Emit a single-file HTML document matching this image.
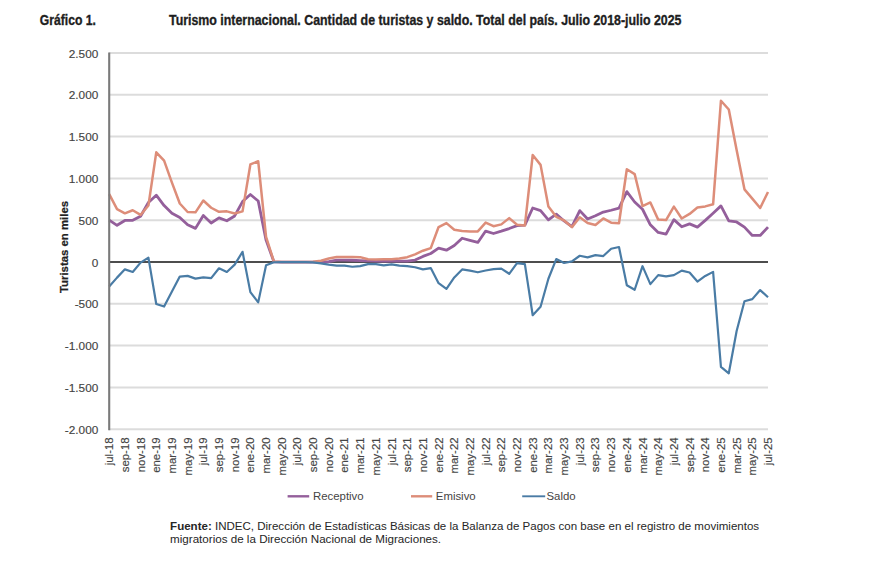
<!DOCTYPE html>
<html lang="es"><head><meta charset="utf-8"><title>Gráfico 1. Turismo internacional</title>
<style>html,body{margin:0;padding:0;background:#fff;width:870px;height:580px;overflow:hidden}svg{display:block} .l{stroke:#444;stroke-width:0.15px}</style>
</head><body>
<svg width="870" height="580" viewBox="0 0 870 580">
<defs><filter id="soft" filterUnits="userSpaceOnUse" x="0" y="0" width="870" height="580"><feGaussianBlur stdDeviation="0.32"/></filter></defs>
<rect width="870" height="580" fill="#ffffff"/>
<text x="39.8" y="24.6" font-family="Liberation Sans, Arial, sans-serif" font-weight="700" font-size="15.3" fill="#1e1e1e" stroke="#1e1e1e" stroke-width="0.35" textLength="56" lengthAdjust="spacingAndGlyphs">Gráfico 1.</text>
<text x="169" y="24.6" font-family="Liberation Sans, Arial, sans-serif" font-weight="700" font-size="15.3" fill="#1e1e1e" stroke="#1e1e1e" stroke-width="0.35" textLength="512.5" lengthAdjust="spacingAndGlyphs">Turismo internacional. Cantidad de turistas y saldo. Total del país. Julio 2018-julio 2025</text>
<g filter="url(#soft)">
<line x1="109.2" y1="53.00" x2="768.0" y2="53.00" stroke="#dcdcdc" stroke-width="2"/>
<line x1="109.2" y1="94.80" x2="768.0" y2="94.80" stroke="#dcdcdc" stroke-width="2"/>
<line x1="109.2" y1="136.60" x2="768.0" y2="136.60" stroke="#dcdcdc" stroke-width="2"/>
<line x1="109.2" y1="178.40" x2="768.0" y2="178.40" stroke="#dcdcdc" stroke-width="2"/>
<line x1="109.2" y1="220.20" x2="768.0" y2="220.20" stroke="#dcdcdc" stroke-width="2"/>
<line x1="109.2" y1="303.80" x2="768.0" y2="303.80" stroke="#dcdcdc" stroke-width="2"/>
<line x1="109.2" y1="345.60" x2="768.0" y2="345.60" stroke="#dcdcdc" stroke-width="2"/>
<line x1="109.2" y1="387.40" x2="768.0" y2="387.40" stroke="#dcdcdc" stroke-width="2"/>
<line x1="109.2" y1="429.20" x2="768.0" y2="429.20" stroke="#dcdcdc" stroke-width="2"/>
</g>
<text x="98.3" y="57.60" text-anchor="end" font-family="Liberation Sans, Arial, sans-serif" font-size="11.8" fill="#444444" class="l">2.500</text>
<text x="98.3" y="99.40" text-anchor="end" font-family="Liberation Sans, Arial, sans-serif" font-size="11.8" fill="#444444" class="l">2.000</text>
<text x="98.3" y="141.20" text-anchor="end" font-family="Liberation Sans, Arial, sans-serif" font-size="11.8" fill="#444444" class="l">1.500</text>
<text x="98.3" y="183.00" text-anchor="end" font-family="Liberation Sans, Arial, sans-serif" font-size="11.8" fill="#444444" class="l">1.000</text>
<text x="98.3" y="224.80" text-anchor="end" font-family="Liberation Sans, Arial, sans-serif" font-size="11.8" fill="#444444" class="l">500</text>
<text x="98.3" y="266.60" text-anchor="end" font-family="Liberation Sans, Arial, sans-serif" font-size="11.8" fill="#444444" class="l">0</text>
<text x="98.3" y="308.40" text-anchor="end" font-family="Liberation Sans, Arial, sans-serif" font-size="11.8" fill="#444444" class="l">-500</text>
<text x="98.3" y="350.20" text-anchor="end" font-family="Liberation Sans, Arial, sans-serif" font-size="11.8" fill="#444444" class="l">-1.000</text>
<text x="98.3" y="392.00" text-anchor="end" font-family="Liberation Sans, Arial, sans-serif" font-size="11.8" fill="#444444" class="l">-1.500</text>
<text x="98.3" y="433.80" text-anchor="end" font-family="Liberation Sans, Arial, sans-serif" font-size="11.8" fill="#444444" class="l">-2.000</text>
<text transform="translate(67.9,247) rotate(-90)" text-anchor="middle" font-family="Liberation Sans, Arial, sans-serif" font-weight="700" font-size="11.4" fill="#222" stroke="#222" stroke-width="0.2">Turistas en miles</text>
<text transform="translate(113.20,437.4) rotate(-90)" text-anchor="end" font-family="Liberation Sans, Arial, sans-serif" font-size="11.4" fill="#444444" class="l">jul-18</text>
<text transform="translate(128.89,437.4) rotate(-90)" text-anchor="end" font-family="Liberation Sans, Arial, sans-serif" font-size="11.4" fill="#444444" class="l">sep-18</text>
<text transform="translate(144.57,437.4) rotate(-90)" text-anchor="end" font-family="Liberation Sans, Arial, sans-serif" font-size="11.4" fill="#444444" class="l">nov-18</text>
<text transform="translate(160.26,437.4) rotate(-90)" text-anchor="end" font-family="Liberation Sans, Arial, sans-serif" font-size="11.4" fill="#444444" class="l">ene-19</text>
<text transform="translate(175.94,437.4) rotate(-90)" text-anchor="end" font-family="Liberation Sans, Arial, sans-serif" font-size="11.4" fill="#444444" class="l">mar-19</text>
<text transform="translate(191.63,437.4) rotate(-90)" text-anchor="end" font-family="Liberation Sans, Arial, sans-serif" font-size="11.4" fill="#444444" class="l">may-19</text>
<text transform="translate(207.31,437.4) rotate(-90)" text-anchor="end" font-family="Liberation Sans, Arial, sans-serif" font-size="11.4" fill="#444444" class="l">jul-19</text>
<text transform="translate(223.00,437.4) rotate(-90)" text-anchor="end" font-family="Liberation Sans, Arial, sans-serif" font-size="11.4" fill="#444444" class="l">sep-19</text>
<text transform="translate(238.69,437.4) rotate(-90)" text-anchor="end" font-family="Liberation Sans, Arial, sans-serif" font-size="11.4" fill="#444444" class="l">nov-19</text>
<text transform="translate(254.37,437.4) rotate(-90)" text-anchor="end" font-family="Liberation Sans, Arial, sans-serif" font-size="11.4" fill="#444444" class="l">ene-20</text>
<text transform="translate(270.06,437.4) rotate(-90)" text-anchor="end" font-family="Liberation Sans, Arial, sans-serif" font-size="11.4" fill="#444444" class="l">mar-20</text>
<text transform="translate(285.74,437.4) rotate(-90)" text-anchor="end" font-family="Liberation Sans, Arial, sans-serif" font-size="11.4" fill="#444444" class="l">may-20</text>
<text transform="translate(301.43,437.4) rotate(-90)" text-anchor="end" font-family="Liberation Sans, Arial, sans-serif" font-size="11.4" fill="#444444" class="l">jul-20</text>
<text transform="translate(317.11,437.4) rotate(-90)" text-anchor="end" font-family="Liberation Sans, Arial, sans-serif" font-size="11.4" fill="#444444" class="l">sep-20</text>
<text transform="translate(332.80,437.4) rotate(-90)" text-anchor="end" font-family="Liberation Sans, Arial, sans-serif" font-size="11.4" fill="#444444" class="l">nov-20</text>
<text transform="translate(348.49,437.4) rotate(-90)" text-anchor="end" font-family="Liberation Sans, Arial, sans-serif" font-size="11.4" fill="#444444" class="l">ene-21</text>
<text transform="translate(364.17,437.4) rotate(-90)" text-anchor="end" font-family="Liberation Sans, Arial, sans-serif" font-size="11.4" fill="#444444" class="l">mar-21</text>
<text transform="translate(379.86,437.4) rotate(-90)" text-anchor="end" font-family="Liberation Sans, Arial, sans-serif" font-size="11.4" fill="#444444" class="l">may-21</text>
<text transform="translate(395.54,437.4) rotate(-90)" text-anchor="end" font-family="Liberation Sans, Arial, sans-serif" font-size="11.4" fill="#444444" class="l">jul-21</text>
<text transform="translate(411.23,437.4) rotate(-90)" text-anchor="end" font-family="Liberation Sans, Arial, sans-serif" font-size="11.4" fill="#444444" class="l">sep-21</text>
<text transform="translate(426.91,437.4) rotate(-90)" text-anchor="end" font-family="Liberation Sans, Arial, sans-serif" font-size="11.4" fill="#444444" class="l">nov-21</text>
<text transform="translate(442.60,437.4) rotate(-90)" text-anchor="end" font-family="Liberation Sans, Arial, sans-serif" font-size="11.4" fill="#444444" class="l">ene-22</text>
<text transform="translate(458.29,437.4) rotate(-90)" text-anchor="end" font-family="Liberation Sans, Arial, sans-serif" font-size="11.4" fill="#444444" class="l">mar-22</text>
<text transform="translate(473.97,437.4) rotate(-90)" text-anchor="end" font-family="Liberation Sans, Arial, sans-serif" font-size="11.4" fill="#444444" class="l">may-22</text>
<text transform="translate(489.66,437.4) rotate(-90)" text-anchor="end" font-family="Liberation Sans, Arial, sans-serif" font-size="11.4" fill="#444444" class="l">jul-22</text>
<text transform="translate(505.34,437.4) rotate(-90)" text-anchor="end" font-family="Liberation Sans, Arial, sans-serif" font-size="11.4" fill="#444444" class="l">sep-22</text>
<text transform="translate(521.03,437.4) rotate(-90)" text-anchor="end" font-family="Liberation Sans, Arial, sans-serif" font-size="11.4" fill="#444444" class="l">nov-22</text>
<text transform="translate(536.71,437.4) rotate(-90)" text-anchor="end" font-family="Liberation Sans, Arial, sans-serif" font-size="11.4" fill="#444444" class="l">ene-23</text>
<text transform="translate(552.40,437.4) rotate(-90)" text-anchor="end" font-family="Liberation Sans, Arial, sans-serif" font-size="11.4" fill="#444444" class="l">mar-23</text>
<text transform="translate(568.09,437.4) rotate(-90)" text-anchor="end" font-family="Liberation Sans, Arial, sans-serif" font-size="11.4" fill="#444444" class="l">may-23</text>
<text transform="translate(583.77,437.4) rotate(-90)" text-anchor="end" font-family="Liberation Sans, Arial, sans-serif" font-size="11.4" fill="#444444" class="l">jul-23</text>
<text transform="translate(599.46,437.4) rotate(-90)" text-anchor="end" font-family="Liberation Sans, Arial, sans-serif" font-size="11.4" fill="#444444" class="l">sep-23</text>
<text transform="translate(615.14,437.4) rotate(-90)" text-anchor="end" font-family="Liberation Sans, Arial, sans-serif" font-size="11.4" fill="#444444" class="l">nov-23</text>
<text transform="translate(630.83,437.4) rotate(-90)" text-anchor="end" font-family="Liberation Sans, Arial, sans-serif" font-size="11.4" fill="#444444" class="l">ene-24</text>
<text transform="translate(646.51,437.4) rotate(-90)" text-anchor="end" font-family="Liberation Sans, Arial, sans-serif" font-size="11.4" fill="#444444" class="l">mar-24</text>
<text transform="translate(662.20,437.4) rotate(-90)" text-anchor="end" font-family="Liberation Sans, Arial, sans-serif" font-size="11.4" fill="#444444" class="l">may-24</text>
<text transform="translate(677.89,437.4) rotate(-90)" text-anchor="end" font-family="Liberation Sans, Arial, sans-serif" font-size="11.4" fill="#444444" class="l">jul-24</text>
<text transform="translate(693.57,437.4) rotate(-90)" text-anchor="end" font-family="Liberation Sans, Arial, sans-serif" font-size="11.4" fill="#444444" class="l">sep-24</text>
<text transform="translate(709.26,437.4) rotate(-90)" text-anchor="end" font-family="Liberation Sans, Arial, sans-serif" font-size="11.4" fill="#444444" class="l">nov-24</text>
<text transform="translate(724.94,437.4) rotate(-90)" text-anchor="end" font-family="Liberation Sans, Arial, sans-serif" font-size="11.4" fill="#444444" class="l">ene-25</text>
<text transform="translate(740.63,437.4) rotate(-90)" text-anchor="end" font-family="Liberation Sans, Arial, sans-serif" font-size="11.4" fill="#444444" class="l">mar-25</text>
<text transform="translate(756.31,437.4) rotate(-90)" text-anchor="end" font-family="Liberation Sans, Arial, sans-serif" font-size="11.4" fill="#444444" class="l">may-25</text>
<text transform="translate(772.00,437.4) rotate(-90)" text-anchor="end" font-family="Liberation Sans, Arial, sans-serif" font-size="11.4" fill="#444444" class="l">jul-25</text>
<g filter="url(#soft)">
<line x1="109.2" y1="262.0" x2="768.0" y2="262.0" stroke="#4d4d4d" stroke-width="2.1"/>
<polyline points="109.20,220.12 117.04,225.30 124.89,220.45 132.73,220.28 140.57,216.19 148.41,202.48 156.26,195.20 164.10,205.57 171.94,213.34 179.79,217.52 187.63,224.80 195.47,228.39 203.31,215.43 211.16,222.96 219.00,217.86 226.84,220.79 234.69,215.94 242.53,201.56 250.37,194.53 258.21,200.97 266.06,240.10 273.90,261.83 281.74,262.08 289.59,262.08 297.43,262.08 305.27,262.08 313.11,262.08 320.96,262.00 328.80,261.58 336.64,260.08 344.49,260.08 352.33,260.24 360.17,260.58 368.01,260.83 375.86,261.08 383.70,260.83 391.54,261.08 399.39,261.08 407.23,261.08 415.07,260.08 422.91,256.40 430.76,253.47 438.60,248.12 446.44,250.21 454.29,245.53 462.13,238.26 469.97,240.35 477.81,242.44 485.66,231.07 493.50,233.49 501.34,231.15 509.19,228.56 517.03,225.63 524.87,225.05 532.71,207.99 540.56,210.59 548.40,219.87 556.24,214.18 564.09,220.95 571.93,226.64 579.77,210.59 587.61,219.03 595.46,215.77 603.30,212.01 611.14,210.25 618.99,208.16 626.83,191.61 634.67,201.98 642.51,209.25 650.36,224.80 658.20,232.49 666.04,234.08 673.89,219.61 681.73,226.80 689.57,223.88 697.41,227.14 705.26,220.37 713.10,213.18 720.94,205.90 728.79,220.95 736.63,221.96 744.47,227.14 752.31,235.42 760.16,235.42 768.00,227.14" fill="none" stroke="#945f9b" stroke-width="2.8" stroke-linejoin="round"/>
<polyline points="109.20,194.12 117.04,209.16 124.89,213.34 132.73,210.25 140.57,214.93 148.41,205.57 156.26,152.32 164.10,160.68 171.94,182.58 179.79,203.48 187.63,212.01 195.47,212.34 203.31,200.47 211.16,207.74 219.00,211.84 226.84,211.34 234.69,213.43 242.53,211.34 250.37,164.44 258.21,161.26 266.06,236.92 273.90,261.58 281.74,262.08 289.59,262.08 297.43,262.08 305.27,262.08 313.11,261.83 320.96,260.75 328.80,258.49 336.64,256.98 344.49,256.98 352.33,256.98 360.17,257.15 368.01,259.24 375.86,259.49 383.70,259.24 391.54,259.24 399.39,258.49 407.23,257.15 415.07,254.39 422.91,250.71 430.76,248.12 438.60,227.06 446.44,223.13 454.29,229.73 462.13,230.90 469.97,231.40 477.81,231.40 485.66,222.62 493.50,226.22 501.34,224.38 509.19,218.11 517.03,224.80 524.87,225.55 532.71,154.99 540.56,164.86 548.40,206.41 556.24,216.86 564.09,220.45 571.93,227.14 579.77,217.27 587.61,222.96 595.46,225.05 603.30,218.44 611.14,222.71 618.99,223.21 626.83,169.29 634.67,174.14 642.51,206.07 650.36,202.48 658.20,219.61 666.04,220.12 673.89,206.66 681.73,218.53 689.57,213.93 697.41,207.49 705.26,206.41 713.10,204.32 720.94,100.74 728.79,109.51 736.63,149.98 744.47,189.35 752.31,198.63 760.16,207.99 768.00,191.94" fill="none" stroke="#dd8d79" stroke-width="2.5" stroke-linejoin="round"/>
<polyline points="109.20,286.41 117.04,277.63 124.89,269.36 132.73,271.95 140.57,262.59 148.41,257.65 156.26,303.97 164.10,306.56 171.94,291.59 179.79,276.55 187.63,275.88 195.47,278.64 203.31,277.30 211.16,278.13 219.00,268.27 226.84,271.95 234.69,264.68 242.53,251.80 250.37,292.10 258.21,302.38 266.06,265.18 273.90,262.25 281.74,262.08 289.59,262.08 297.43,262.08 305.27,262.08 313.11,262.33 320.96,263.34 328.80,264.68 336.64,265.68 344.49,265.68 352.33,266.77 360.17,266.18 368.01,264.17 375.86,264.17 383.70,265.34 391.54,264.34 399.39,265.68 407.23,266.18 415.07,267.27 422.91,269.36 430.76,268.10 438.60,283.15 446.44,288.84 454.29,277.47 462.13,269.44 469.97,270.69 477.81,272.28 485.66,270.53 493.50,269.19 501.34,268.60 509.19,273.79 517.03,263.17 524.87,264.17 532.71,315.25 540.56,306.81 548.40,278.72 556.24,259.07 564.09,263.00 571.93,261.33 579.77,255.73 587.61,257.40 595.46,255.14 603.30,256.06 611.14,248.71 618.99,247.04 626.83,285.24 634.67,289.76 642.51,266.18 650.36,284.15 658.20,275.13 666.04,276.30 673.89,275.13 681.73,270.61 689.57,272.53 697.41,281.56 705.26,275.96 713.10,271.86 720.94,366.92 728.79,373.27 736.63,330.97 744.47,301.29 752.31,299.12 760.16,290.09 768.00,297.28" fill="none" stroke="#4a7ba5" stroke-width="2.2" stroke-linejoin="round"/>
<line x1="109.2" y1="52.50" x2="109.2" y2="430.20" stroke="#7a7a7a" stroke-width="2.1"/>
</g>
<line x1="287.6" y1="496.3" x2="309.2" y2="496.3" stroke="#945f9b" stroke-width="2.4"/>
<text x="313" y="499.6" font-family="Liberation Sans, Arial, sans-serif" font-size="11.4" fill="#444444">Receptivo</text>
<line x1="411" y1="496.3" x2="432.2" y2="496.3" stroke="#dd8d79" stroke-width="2.4"/>
<text x="435.8" y="499.6" font-family="Liberation Sans, Arial, sans-serif" font-size="11.4" fill="#444444">Emisivo</text>
<line x1="522.2" y1="496.3" x2="545.2" y2="496.3" stroke="#4a7ba5" stroke-width="1.9"/>
<text x="546.5" y="499.6" font-family="Liberation Sans, Arial, sans-serif" font-size="11.4" fill="#444444">Saldo</text>
<text x="170.1" y="529.7" font-family="Liberation Sans, Arial, sans-serif" font-size="11.5" fill="#262626" textLength="589" lengthAdjust="spacingAndGlyphs"><tspan font-weight="700">Fuente:</tspan> INDEC, Dirección de Estadísticas Básicas de la Balanza de Pagos con base en el registro de movimientos</text>
<text x="170.1" y="543.2" font-family="Liberation Sans, Arial, sans-serif" font-size="11.5" fill="#262626" textLength="271" lengthAdjust="spacingAndGlyphs">migratorios de la Dirección Nacional de Migraciones.</text>
</svg>
</body></html>
